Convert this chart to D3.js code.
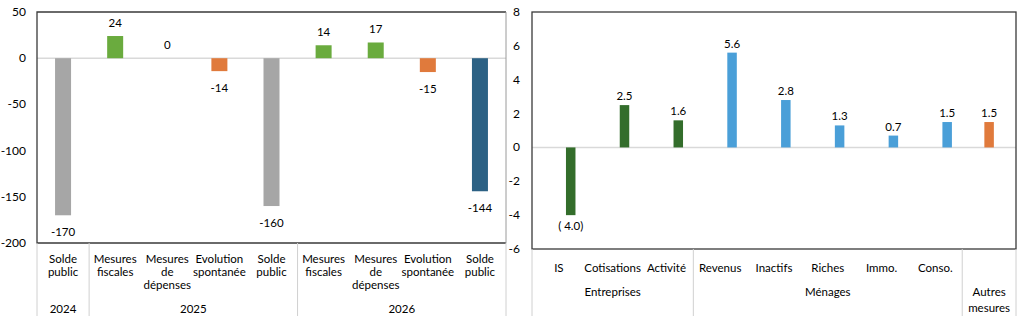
<!DOCTYPE html>
<html>
<head>
<meta charset="utf-8">
<script src="https://cdn.jsdelivr.net/npm/d3@7"></script>
<style>
  body { margin: 0; background: #fff; }
  svg text { font-family: Lato, "Open Sans", sans-serif; fill: #000; }
</style>
</head>
<body>
<svg id="chart" width="1024" height="322"></svg>
<script>
// left panel: budget balance bridge 2024 -> 2026 (Md€)
var leftCats = ["sp24", "mf25", "md25", "ev25", "sp25", "mf26", "md26", "ev26", "sp26"];
var leftLabels = [["Solde", "public"], ["Mesures", "fiscales"], ["Mesures", "de", "dépenses"], ["Evolution", "spontanée"], ["Solde", "public"],
                  ["Mesures", "fiscales"], ["Mesures", "de", "dépenses"], ["Evolution", "spontanée"], ["Solde", "public"]];
var leftValues = [-170, 24, 0, -14, -160, 14, 17, -15, -144];
var leftKinds = ["solde", "plus", "plus", "moins", "solde", "plus", "plus", "moins", "final"];
var leftYears = [{ name: "2024", from: 0, to: 1 }, { name: "2025", from: 1, to: 5 }, { name: "2026", from: 5, to: 9 }];
var leftTicks = [50, 0, -50, -100, -150, -200];

// right panel: measures by target (Md€)
var rightCats = ["IS", "Cotisations", "Activité", "Revenus", "Inactifs", "Riches", "Immo.", "Conso.", "Autres mesures"];
var rightValues = [-4.0, 2.5, 1.6, 5.6, 2.8, 1.3, 0.7, 1.5, 1.5];
var rightKinds = ["entr", "entr", "entr", "men", "men", "men", "men", "men", "autres"];
var rightGroups = [{ name: ["Entreprises"], from: 0, to: 3 }, { name: ["Ménages"], from: 3, to: 8 }, { name: ["Autres", "mesures"], from: 8, to: 9 }];
var rightTicks = [8, 6, 4, 2, 0, -2, -4, -6];

var colors = {
  solde: "#a6a6a6", plus: "#6aab3e", moins: "#e07a3c", final: "#2c6184",
  entr: "#336d2b", men: "#4a9fd8", autres: "#e07a3c"
};

var svg = d3.select("#chart");
var fontSize = 11.5;

function fmtRight(v) {
  return v < 0 ? "( " + Math.abs(v).toFixed(1) + ")" : v.toFixed(1);
}

// ---------- left panel ----------
var L = { left: 37, right: 506, top: 12, bottom: 243 };
var xL = d3.scaleBand().domain(leftCats).range([L.left, L.right]);
var yL = d3.scaleLinear().domain([-200, 50]).range([L.bottom, L.top]);
var barWL = 16;

var gL = svg.append("g");

gL.selectAll(".ytick")
  .data(leftTicks)
  .enter().append("text")
  .attr("x", 26)
  .attr("y", d => yL(d) + 4)
  .attr("text-anchor", "end")
  .style("font-size", "12px")
  .text(d => d);

gL.append("line")
  .attr("x1", L.left).attr("x2", L.right)
  .attr("y1", yL(0)).attr("y2", yL(0))
  .attr("stroke", "#d9d9d9").attr("stroke-width", 1.5);

gL.selectAll(".bar")
  .data(leftValues)
  .enter().append("rect")
  .attr("x", (d, i) => xL(leftCats[i]) + xL.bandwidth() / 2 - barWL / 2)
  .attr("width", barWL)
  .attr("y", d => yL(Math.max(0, d)))
  .attr("height", d => Math.abs(yL(d) - yL(0)))
  .attr("fill", (d, i) => colors[leftKinds[i]]);

gL.selectAll(".val")
  .data(leftValues)
  .enter().append("text")
  .attr("x", (d, i) => xL(leftCats[i]) + xL.bandwidth() / 2)
  .attr("y", d => d >= 0 ? yL(d) - 9 : yL(d) + 21)
  .attr("text-anchor", "middle")
  .style("font-size", fontSize + "px")
  .text(d => d);

// frame
gL.append("path")
  .attr("d", "M" + L.right + "," + L.top + "H" + L.left + "V" + L.bottom + "H" + L.right)
  .attr("fill", "none").attr("stroke", "#3a3a3a").attr("stroke-width", 1.3);
gL.append("line")
  .attr("x1", L.right).attr("x2", L.right).attr("y1", L.top).attr("y2", L.bottom)
  .attr("stroke", "#9a9a9a").attr("stroke-width", 1);

// category labels
leftLabels.forEach(function (lines, i) {
  var t = gL.append("text")
    .attr("text-anchor", "middle")
    .style("font-size", fontSize + "px");
  lines.forEach(function (s, j) {
    t.append("tspan")
      .attr("x", xL(leftCats[i]) + xL.bandwidth() / 2)
      .attr("y", 263 + j * 13)
      .text(s);
  });
});

// year groups and separators
var sepL = [0].concat(leftYears.map(d => d.to));
gL.selectAll(".sep")
  .data(sepL)
  .enter().append("line")
  .attr("x1", d => L.left + d * xL.step()).attr("x2", d => L.left + d * xL.step())
  .attr("y1", L.bottom).attr("y2", 316)
  .attr("stroke", "#d0d0d0").attr("stroke-width", 1);

gL.selectAll(".year")
  .data(leftYears)
  .enter().append("text")
  .attr("x", d => L.left + (d.from + d.to) / 2 * xL.step())
  .attr("y", 313)
  .attr("text-anchor", "middle")
  .style("font-size", fontSize + "px")
  .text(d => d.name);

// ---------- right panel ----------
var R = { left: 532, right: 1016, top: 12, bottom: 249 };
var xR = d3.scaleBand().domain(rightCats).range([R.left, R.right]);
var yR = d3.scaleLinear().domain([-6, 8]).range([R.bottom, R.top]);
// the main series sits right of the band centre, "autres" sits on it
var xSub = d3.scaleBand().domain(["autres", "main"])
  .range([0.39 * xR.bandwidth(), 0.83 * xR.bandwidth()]);
var barWR = 9.5;

function barCx(i) {
  var k = rightKinds[i] === "autres" ? "autres" : "main";
  return xR(rightCats[i]) + xSub(k) + xSub.bandwidth() / 2;
}

var gR = svg.append("g");

gR.selectAll(".ytick")
  .data(rightTicks)
  .enter().append("text")
  .attr("x", 520)
  .attr("y", d => yR(d) + 4)
  .attr("text-anchor", "end")
  .style("font-size", "12px")
  .text(d => d);

gR.append("line")
  .attr("x1", R.left).attr("x2", R.right)
  .attr("y1", yR(0)).attr("y2", yR(0))
  .attr("stroke", "#d9d9d9").attr("stroke-width", 1.5);

gR.selectAll(".bar")
  .data(rightValues)
  .enter().append("rect")
  .attr("x", (d, i) => barCx(i) - barWR / 2)
  .attr("width", barWR)
  .attr("y", d => yR(Math.max(0, d)))
  .attr("height", d => Math.abs(yR(d) - yR(0)))
  .attr("fill", (d, i) => colors[rightKinds[i]]);

gR.selectAll(".val")
  .data(rightValues)
  .enter().append("text")
  .attr("x", (d, i) => barCx(i))
  .attr("y", d => d >= 0 ? yR(d) - 5 : yR(d) + 15)
  .attr("text-anchor", "middle")
  .style("font-size", fontSize + "px")
  .text(fmtRight);

gR.append("rect")
  .attr("x", R.left).attr("y", R.top)
  .attr("width", R.right - R.left).attr("height", R.bottom - R.top)
  .attr("fill", "none").attr("stroke", "#3a3a3a").attr("stroke-width", 1.3);

// first label row (not for the last group, which gets its own label)
gR.selectAll(".cat")
  .data(rightCats.slice(0, 8))
  .enter().append("text")
  .attr("x", d => xR(d) + xR.bandwidth() / 2)
  .attr("y", 272)
  .attr("text-anchor", "middle")
  .style("font-size", fontSize + "px")
  .text(d => d);

var sepR = [0].concat(rightGroups.map(d => d.to));
gR.selectAll(".sep")
  .data(sepR)
  .enter().append("line")
  .attr("x1", d => R.left + d * xR.step()).attr("x2", d => R.left + d * xR.step())
  .attr("y1", R.bottom).attr("y2", 316)
  .attr("stroke", "#d0d0d0").attr("stroke-width", 1);

rightGroups.forEach(function (g) {
  var t = gR.append("text")
    .attr("text-anchor", "middle")
    .style("font-size", fontSize + "px");
  g.name.forEach(function (s, j) {
    t.append("tspan")
      .attr("x", R.left + (g.from + g.to) / 2 * xR.step())
      .attr("y", 296 + j * 16)
      .text(s);
  });
});
</script>
</body>
</html>
